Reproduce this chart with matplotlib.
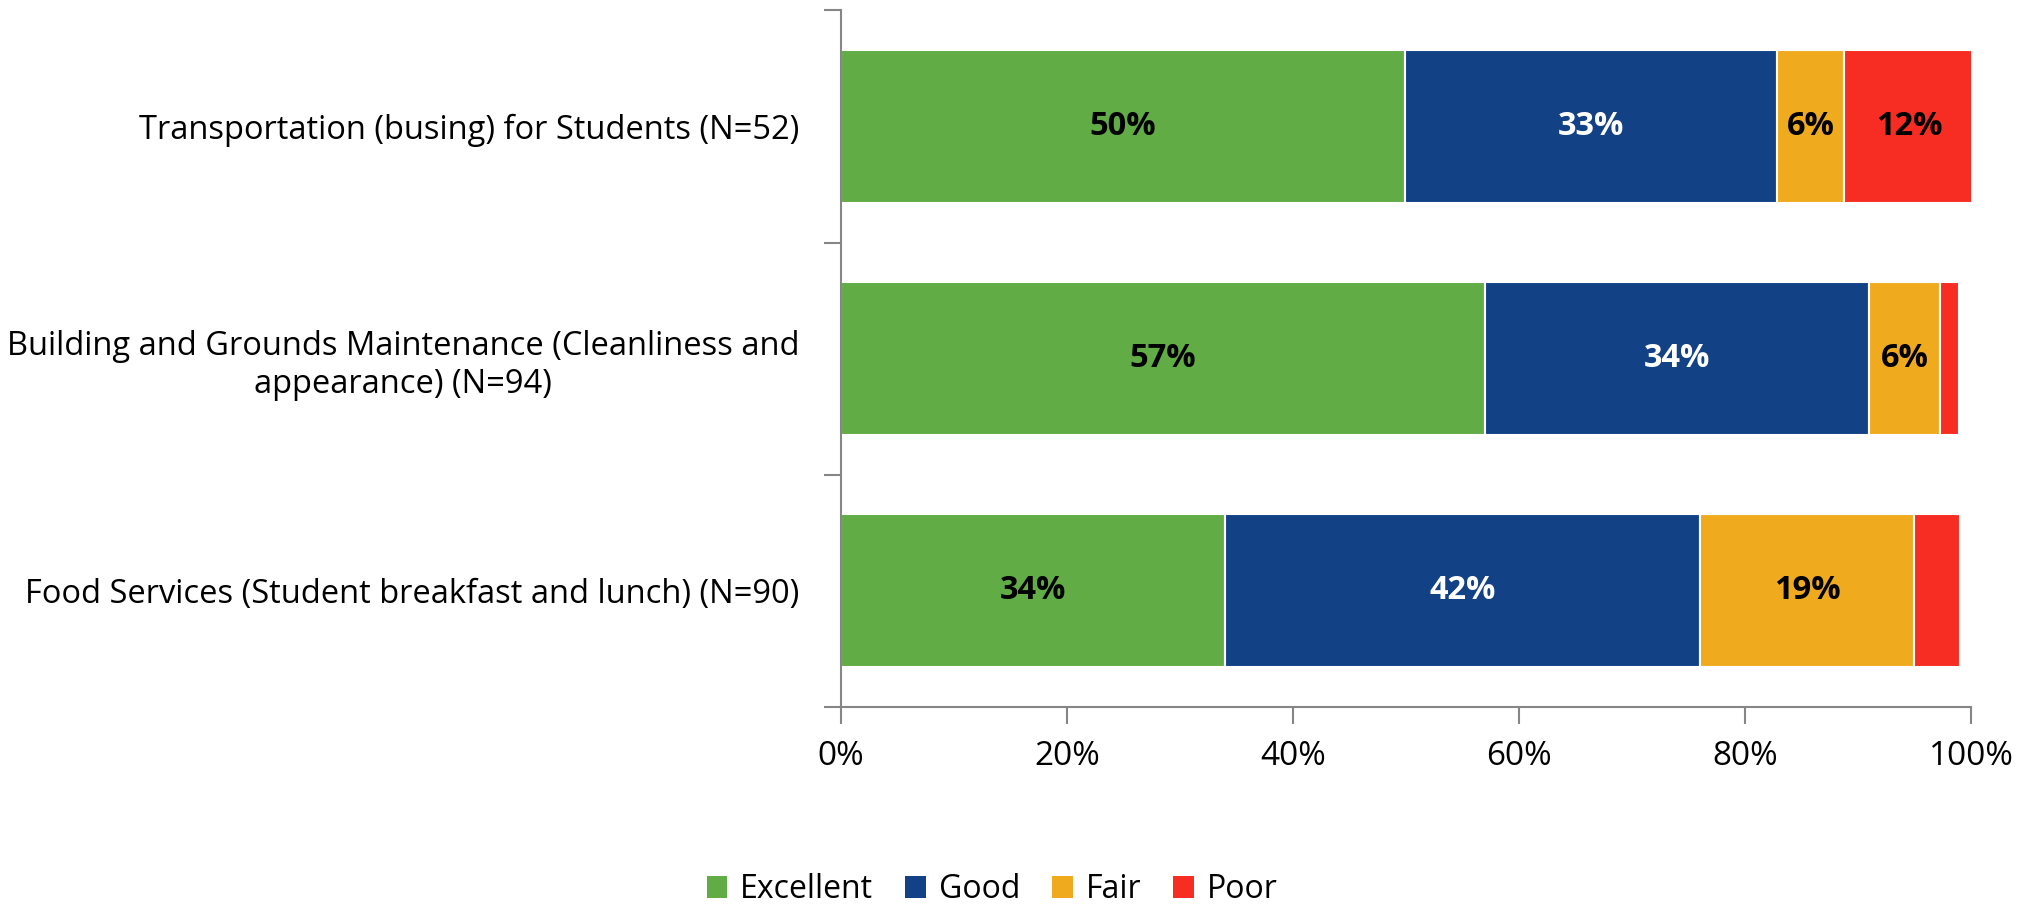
import numpy as np
import matplotlib
matplotlib.use("Agg")
import matplotlib.pyplot as plt
from matplotlib.patches import Patch

# data (percent), top to bottom as shown
categories = ["Transportation (busing) for Students (N=52)",
              "Building and Grounds Maintenance (Cleanliness and\nappearance) (N=94)",
              "Food Services (Student breakfast and lunch) (N=90)"]
series = ["Excellent", "Good", "Fair", "Poor"]
excellent = [49.9, 57.0, 34.0]
good = [32.9, 34.0, 42.0]
fair = [6.0, 6.3, 19.0]
poor = [11.5, 1.6, 4.0]
x_ticks = [0, 20, 40, 60, 80, 100]

colors = ["#62AC46", "#124186", "#F0AA1E", "#F72C22"]
label_colors = ["black", "white", "black", "black"]

plt.rcParams['font.family'] = ['Open Sans', 'DejaVu Sans']

fig = plt.figure(figsize=(20.33, 9.08), dpi=100)
ax = fig.add_axes([0.4137, 0.2217, 0.5558, 0.7668])

y = np.arange(len(categories))[::-1]
left = np.zeros(len(categories))
for vals, name, col, lcol in zip([excellent, good, fair, poor], series, colors, label_colors):
    vals = np.array(vals)
    ax.barh(y, vals, left=left, height=0.66, color=col, edgecolor="white",
            linewidth=1.5, label=name)
    for yi, l, v in zip(y, left, vals):
        if v >= 5:
            ax.text(l + v / 2, yi, "%d%%" % round(v), ha="center", va="center",
                    color=lcol, fontsize=23.5, fontweight="bold")
    left += vals

ax.set_xlim(0, 100)
ax.set_ylim(-0.5, 2.5)
ax.set_xticks(x_ticks)
ax.set_xticklabels(["%d%%" % t for t in x_ticks], fontsize=24)
ax.set_yticks(y)
ax.set_yticklabels(categories, fontsize=23.5, multialignment="center")
ax.set_yticks([-0.5, 0.5, 1.5, 2.5], minor=True)
ax.tick_params(axis="y", which="major", length=0, pad=30)
ax.tick_params(axis="y", which="minor", length=12, width=1.5, color="#868686", direction="out")
ax.tick_params(axis="x", length=12, width=1.5, color="#868686", direction="out", pad=12)

for s in ["top", "right"]:
    ax.spines[s].set_visible(False)
for s in ["left", "bottom"]:
    ax.spines[s].set_color("#868686")
    ax.spines[s].set_linewidth(1.5)

handles = [Patch(facecolor=c, edgecolor="none", label=n) for c, n in zip(colors, series)]
fig.legend(handles=handles, loc="center", bbox_to_anchor=(0.488, 0.02), ncol=4,
           frameon=False, fontsize=23, handlelength=0.65, handleheight=0.65,
           handletextpad=0.4, columnspacing=1.0)

fig.savefig("out.png", dpi=100)
